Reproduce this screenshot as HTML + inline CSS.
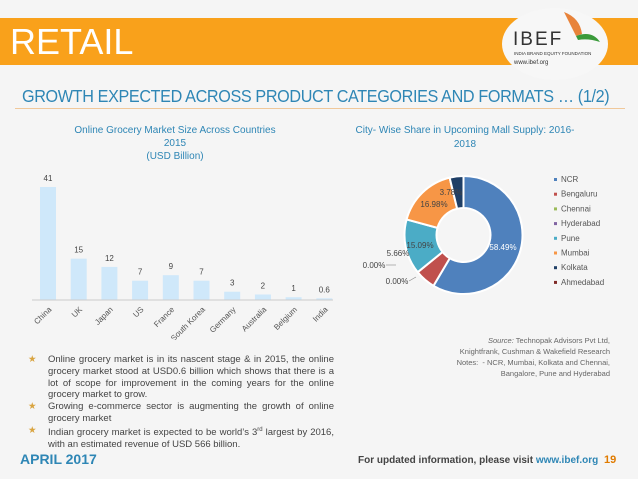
<!DOCTYPE html>
<html><head><meta charset="utf-8"><style>
body{margin:0;width:638px;height:479px;background:#f5f5f5;font-family:"Liberation Sans",sans-serif;position:relative;overflow:hidden}
.a{position:absolute;white-space:nowrap}
</style></head><body>
<div class="a" style="left:0;top:18px;width:638px;height:47px;background:#f9a11b"></div>
<div class="a" style="left:10px;top:22px;font-size:36px;color:#fff;line-height:40px">RETAIL</div>
<div class="a" style="left:502px;top:8px;width:106px;height:72px;border-radius:50%;background:#f7f7f7"></div>
<div class="a" style="left:513px;top:29px;font-size:19px;letter-spacing:2px;color:#333">IBEF</div>
<svg class="a" style="left:562px;top:12px" width="40" height="34"><path d="M2 0 Q18 6 20 22 L14 24Z" fill="#e8833a"/><path d="M14 24 Q30 18 38 30 Q26 26 16 28Z" fill="#3a9a3a"/></svg>
<div class="a" style="left:514px;top:51px;font-size:4.5px;color:#333">INDIA BRAND EQUITY FOUNDATION</div>
<div class="a" style="left:514px;top:60px;font-size:6px;color:#333">www.ibef.org</div>
<div class="a" style="left:22px;top:86px;font-size:17.5px;color:#2e86b5;letter-spacing:-0.4px;transform:scaleX(0.925);transform-origin:left top">GROWTH EXPECTED ACROSS PRODUCT CATEGORIES AND FORMATS … (1/2)</div>
<div class="a" style="left:15px;top:108px;width:610px;height:1px;background:#f0c89a"></div>

<div class="a" style="left:55px;top:124px;width:240px;text-align:center;font-size:10px;line-height:13px;color:#2e86b5;white-space:normal">Online Grocery Market Size Across Countries<br>2015<br>(USD Billion)</div>
<svg class="a" id="bar" style="left:0;top:160px" width="340" height="180"></svg>

<div class="a" style="left:345px;top:124px;width:240px;text-align:center;font-size:10px;line-height:14px;color:#2e86b5;white-space:normal">City- Wise Share in Upcoming Mall Supply: 2016-<br>2018</div>
<svg class="a" id="donut" style="left:340px;top:160px" width="298" height="150"></svg>

<div class="a" style="right:28px;top:335px;text-align:right;font-size:7.5px;line-height:11px;color:#666">
<i>Source:</i> Technopak Advisors Pvt Ltd,<br>Knightfrank, Cushman &amp; Wakefield Research<br>Notes: &nbsp;- NCR, Mumbai, Kolkata and Chennai,<br>Bangalore, Pune and Hyderabad</div>

<div class="a" style="left:28px;top:354px;width:306px;font-size:9.5px;line-height:11.8px;color:#444;white-space:normal">
<div style="display:flex"><span style="color:#d9a440;width:20px;flex:none">★</span><span style="text-align:justify">Online grocery market is in its nascent stage &amp; in 2015, the online grocery market stood at USD0.6 billion which shows that there is a lot of scope for improvement in the coming years for the online grocery market to grow.</span></div>
<div style="display:flex"><span style="color:#d9a440;width:20px;flex:none">★</span><span style="text-align:justify">Growing e-commerce sector is augmenting the growth of online grocery market</span></div>
<div style="display:flex"><span style="color:#d9a440;width:20px;flex:none">★</span><span style="text-align:justify">Indian grocery market is expected to be world’s 3<sup style="font-size:6px">rd</sup> largest by 2016, with an estimated revenue of USD 566 billion.</span></div>
</div>
<div class="a" style="left:20px;top:451px;font-size:14px;font-weight:bold;color:#2e86b5">APRIL 2017</div>
<div class="a" style="left:358px;top:455px;font-size:10px;font-weight:bold;color:#444">For updated information, please visit <span style="color:#2e86b5">www.ibef.org</span></div>
<div class="a" style="left:604px;top:454px;font-size:11px;font-weight:bold;color:#e07b00">19</div>

<script>
const countries=["China","UK","Japan","US","France","South Korea","Germany","Australia","Belgium","India"];
const marketSize=[41,15,12,7,9,7,3,2,1,0.6];
const marketLabels=["41","15","12","7","9","7","3","2","1","0.6"];
const cities=["NCR","Bengaluru","Chennai","Hyderabad","Pune","Mumbai","Kolkata","Ahmedabad"];
const shares=[58.49,5.66,0,0,15.09,16.98,3.78,0];
const cityColors=["#4f81bd","#c0504d","#9bbb59","#8064a2","#4bacc6","#f79646","#1f3f66","#7f2a27"];
const NS="http://www.w3.org/2000/svg";
function mk(p,t,a){const e=document.createElementNS(NS,t);for(const k in a)e.setAttribute(k,a[k]);p.appendChild(e);return e;}
const bar=document.getElementById('bar');
const base=140, x0=48, step=30.7, bw=16;
const yS=v=>v*113/41;
const xS=i=>x0+i*step;
countries.forEach((c,i)=>{
 const h=yS(marketSize[i]);
 const r=mk(bar,'rect',{x:xS(i)-bw/2,y:base-h,width:bw,height:h,fill:'#cfe8fa'});
 
 
 const t=mk(bar,'text',{x:xS(i),y:base-h-6,'text-anchor':'middle','font-size':8,fill:'#444'});t.textContent=marketLabels[i];
 
 
 const l=mk(bar,'text',{x:xS(i)+4,y:base+10,'text-anchor':'end','font-size':8,fill:'#555',transform:`rotate(-45 ${xS(i)+4} ${base+10})`});l.textContent=c;
 
 
});
const ax=mk(bar,'line',{x1:32,x2:333,y1:base,y2:base,stroke:'#ccc'});


const d=document.getElementById('donut');
const cx=123.5,cy=75,R=59,r0=27;
let acc=0;
const pt=(a,rr)=>[cx+rr*Math.sin(a),cy-rr*Math.cos(a)];
shares.forEach((s,i)=>{
 if(s<=0){acc+=s;return;}
 const a0=acc/100*2*Math.PI,a1=(acc+s)/100*2*Math.PI;acc+=s;
 const lg=(a1-a0)>Math.PI?1:0;
 const [x1,y1]=pt(a0,R),[x2,y2]=pt(a1,R),[x3,y3]=pt(a1,r0),[x4,y4]=pt(a0,r0);
 const p=mk(d,'path',{d:`M${x1} ${y1}A${R} ${R} 0 ${lg} 1 ${x2} ${y2}L${x3} ${y3}A${r0} ${r0} 0 ${lg} 0 ${x4} ${y4}Z`,fill:cityColors[i],stroke:'#fff','stroke-width':2});
 
 
});
const labs=[["58.49%",163,90,"#fff"],["15.09%",80,88,"#444"],["16.98%",94,47,"#444"],["3.78%",111,35,"#444"],["5.66%",58,96,"#444"],["0.00%",34,108,"#444"],["0.00%",57,124,"#444"]];
labs.forEach(l=>{const t=mk(d,'text',{x:l[1],y:l[2],'text-anchor':'middle','font-size':8,fill:l[3]});t.textContent=l[0];
 
 });
mk(d,'line',{x1:46,y1:105,x2:56,y2:105,stroke:'#888','stroke-width':0.6});
mk(d,'line',{x1:69,y1:121,x2:76,y2:117,stroke:'#888','stroke-width':0.6});
cities.forEach((c,i)=>{
 const y=21+i*14.7;
 mk(d,'rect',{x:214,y:y-3,width:3,height:3,fill:cityColors[i]});
 const t=mk(d,'text',{x:221,y:y+1,'font-size':8,fill:'#555'});t.textContent=c;
 
 
});
</script>
</body></html>
